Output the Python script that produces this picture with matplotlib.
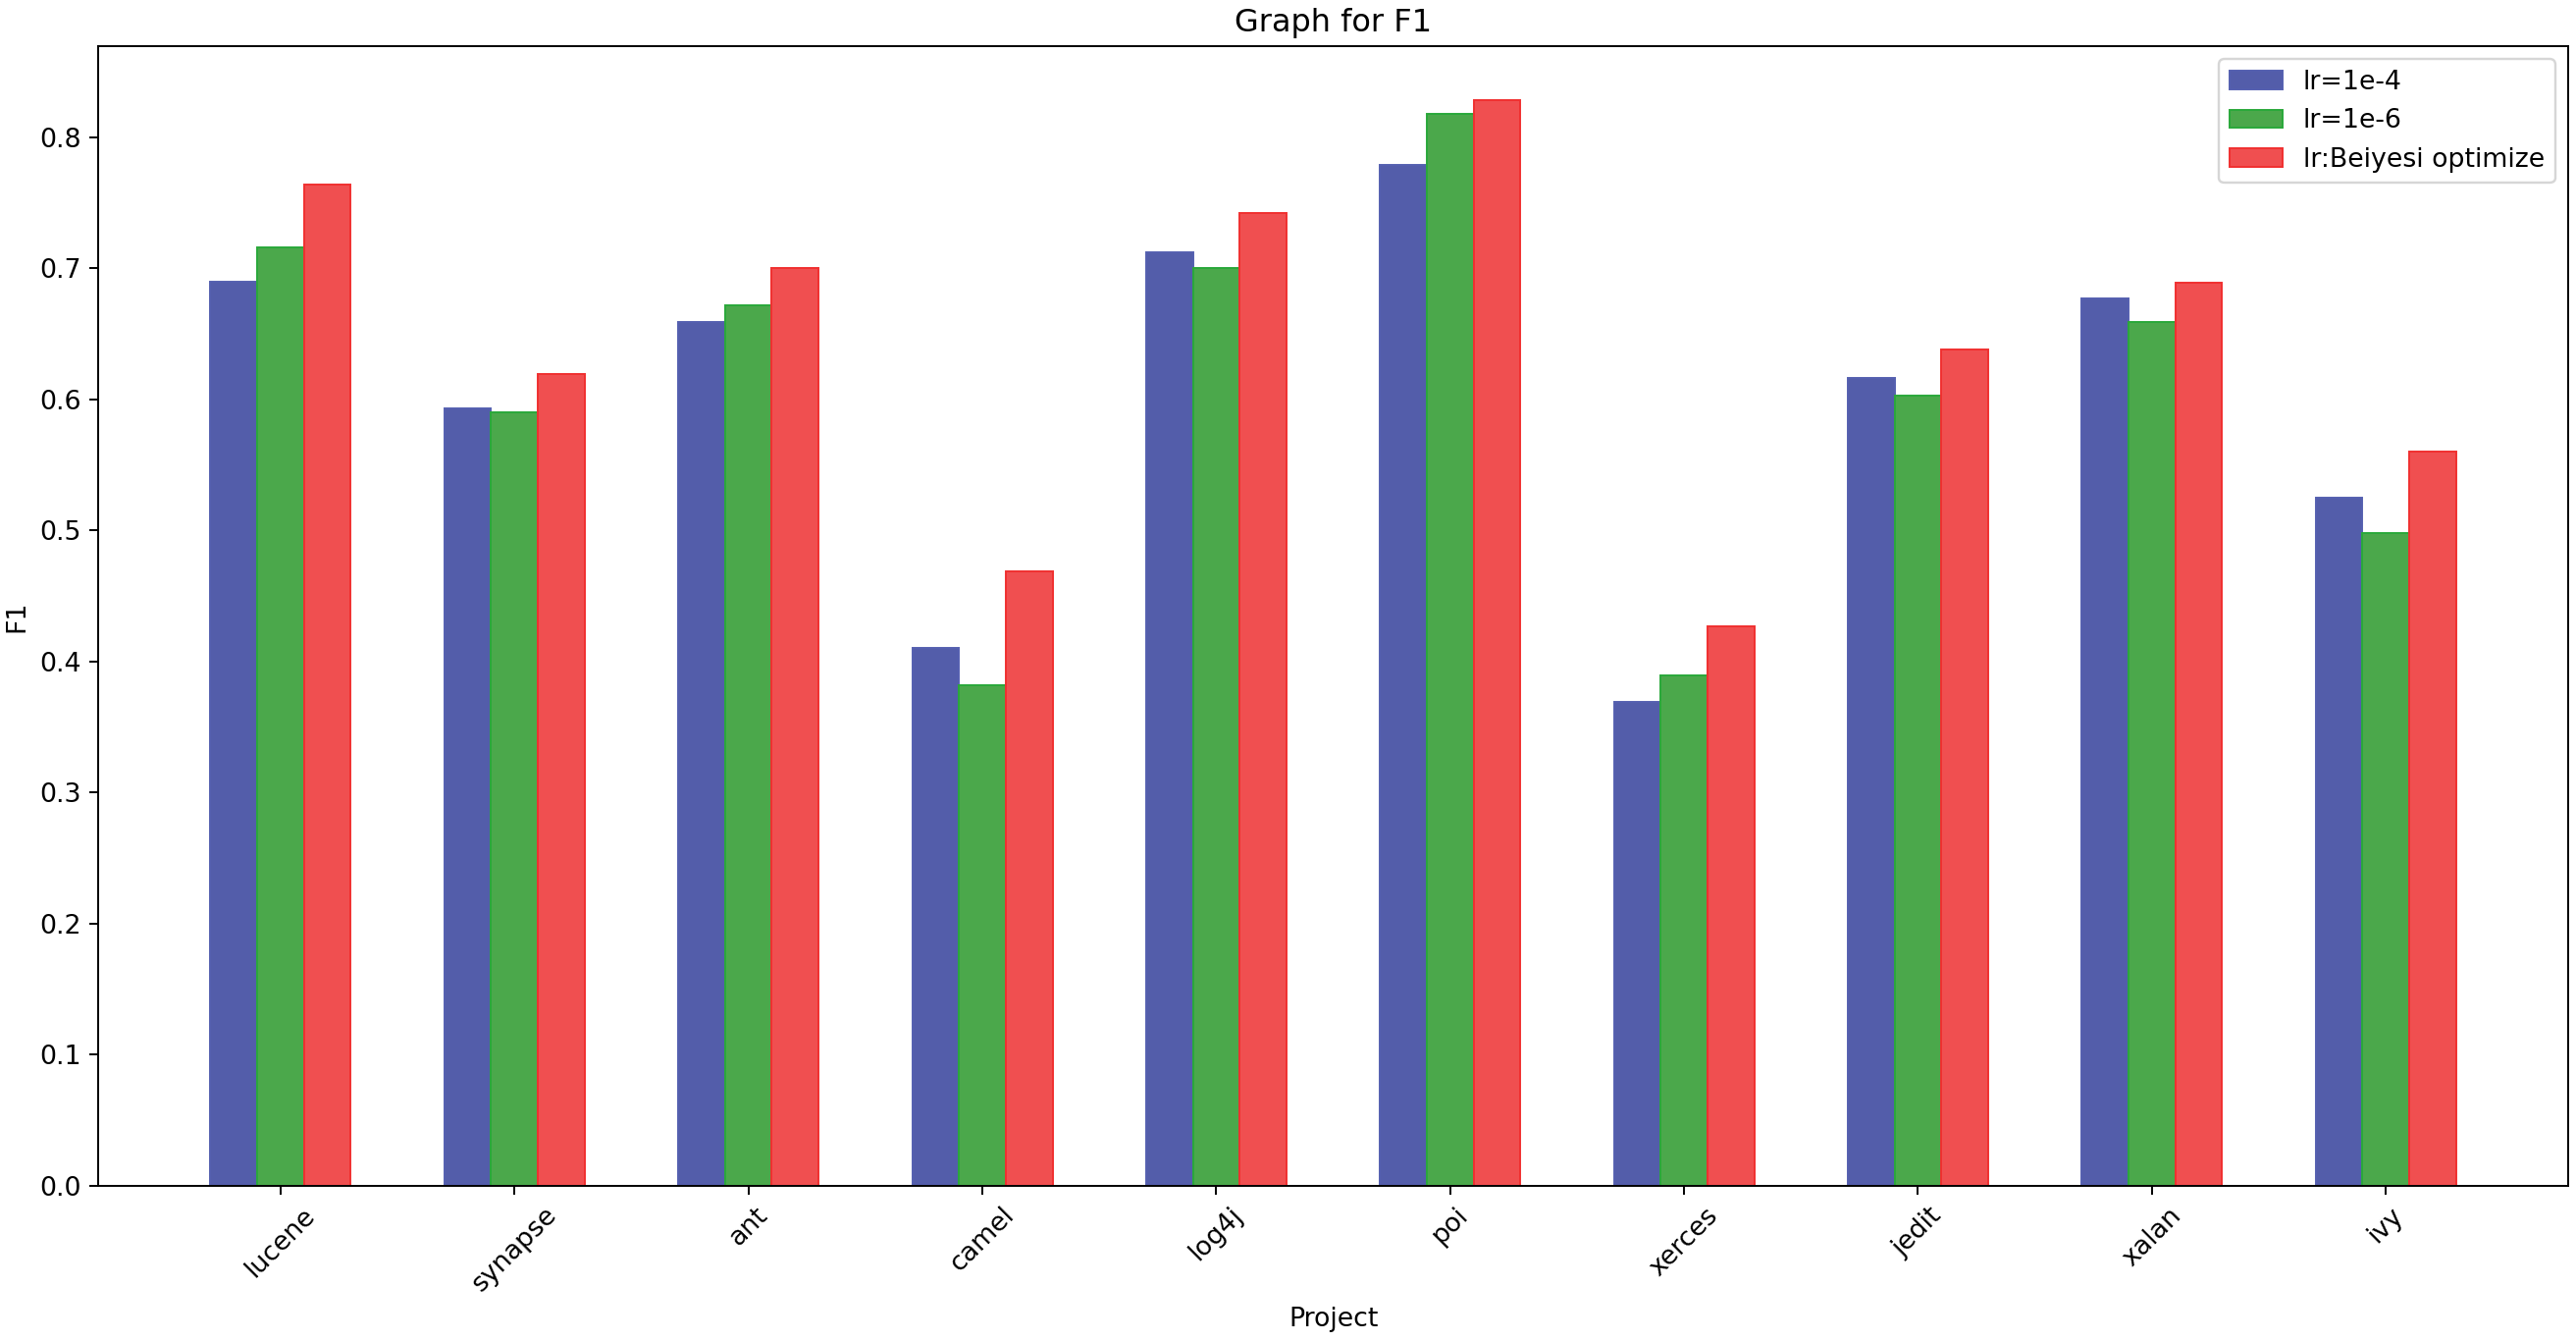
import numpy as np
import matplotlib.pyplot as plt

plt.rcParams['font.size'] = 11

projects = ['lucene', 'synapse', 'ant', 'camel', 'log4j', 'poi', 'xerces', 'jedit', 'xalan', 'ivy']
f1_lr4 = [0.690, 0.593, 0.659, 0.410, 0.712, 0.779, 0.369, 0.616, 0.677, 0.525]
f1_lr6 = [0.716, 0.590, 0.672, 0.382, 0.700, 0.818, 0.389, 0.603, 0.659, 0.498]
f1_bayes = [0.764, 0.619, 0.700, 0.469, 0.742, 0.828, 0.427, 0.638, 0.689, 0.560]

x = np.arange(len(projects))
width = 0.2

fig = plt.figure(figsize=(15, 1366 / 175))
ax = fig.add_subplot(111)
fig.subplots_adjust(left=0.0381, right=0.997, bottom=0.1157, top=0.9656)

ax.bar(x - width, f1_lr4, width, color='#535DAA', edgecolor='#5560B0', linewidth=0.8, label='lr=1e-4')
ax.bar(x, f1_lr6, width, color='#4BA84B', edgecolor='#2AA83A', linewidth=0.8, label='lr=1e-6')
ax.bar(x + width, f1_bayes, width, color='#F04F50', edgecolor='#F03030', linewidth=0.8, label='lr:Beiyesi optimize')

ax.set_xticks(x)
ax.set_xticklabels(projects, rotation=45)
ax.set_xlabel('Project')
ax.set_ylabel('F1')
ax.set_title('Graph for F1')
ax.legend(loc='upper right')

plt.savefig('out.png', dpi=175)
